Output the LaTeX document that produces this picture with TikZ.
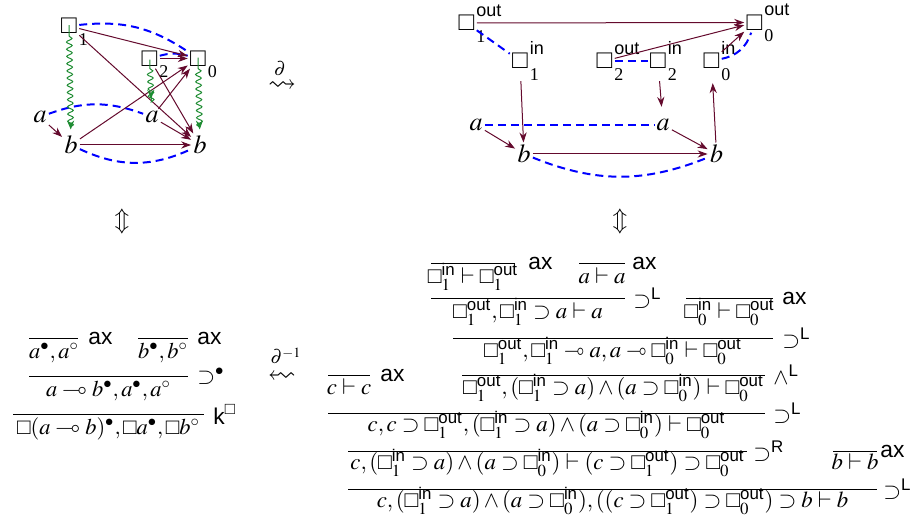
\documentclass[tikz,border=0pt]{standalone}
\usepackage{mathptmx}
\usepackage{amsmath,amssymb}
\usepackage{graphicx}
\usepackage{fontspec}
\setmainfont{Liberation Serif}
\setsansfont{Liberation Sans}
\usetikzlibrary{arrows.meta,decorations.pathmorphing}
\definecolor{edgecol}{RGB}{100,10,45}
\definecolor{snakecol}{RGB}{30,140,50}
\newcommand{\bx}{\text{\sffamily □}}
\newcommand{\bi}[1]{\bx^{\textsf{in}}_{#1}}
\newcommand{\bo}[1]{\bx^{\textsf{out}}_{#1}}
\newcommand{\lolli}{\mathrel{\scalebox{0.8}[1]{$\multimap$}}}
\newcommand{\gb}[2]{\bx\rlap{\smash{\kern1pt\raisebox{0.55em}{\fontsize{9}{9}\selectfont\sffamily #1}}}\rlap{\smash{\kern1pt\raisebox{-0.45em}{\fontsize{9}{9}\selectfont #2}}}}
\begin{document}
\begin{tikzpicture}[x=0.5pt,y=-0.5pt,
  font=\fontsize{11.4}{13}\selectfont,
  gn/.style={inner sep=1pt, font=\fontsize{13}{15}\selectfont},
  e/.style={draw=edgecol, line width=0.5pt, -{Stealth[length=5pt,width=3.6pt]}},
  bd/.style={draw=blue, line width=1pt, dash pattern=on 4pt off 2.5pt},
  sn/.style={draw=snakecol, line width=0.5pt, -{Stealth[length=4.5pt,width=3.6pt]}, decorate, decoration={snake, amplitude=1.4pt, segment length=3.6pt, post length=3pt}},
  seq/.style={anchor=base, inner sep=0pt},
  lseq/.style={anchor=base, inner sep=0pt, font=\fontsize{11.2}{13}\selectfont},
  rl/.style={anchor=west, inner sep=0pt},
  il/.style={line width=0.45pt},
]
\useasboundingbox (0,0) rectangle (917,528);

% ---------- top-left graph ----------
\node[gn] (s1) at (69,26) {\gb{}{1}};
\node[gn] (s2) at (149.5,58.5) {\gb{}{2}};
\node[gn] (s0) at (198,58.5) {\gb{}{0}};
\node[gn] (aL) at (40,117) {$a$};
\node[gn] (aR) at (152,117) {$a$};
\node[gn] (bL) at (71,145) {$b$};
\node[gn] (bR) at (200,145) {$b$};

\draw[bd] (s1) to[bend left=20] (s0);
\draw[bd] (s2) to[bend left=15] (s0);
\draw[bd] (aL) to[bend left=20] (aR);
\draw[bd] (bL) to[bend right=25] (bR);

\draw[e] (s1) -- (s0);
\draw[e] (s1) -- (bR);
\draw[e] (s2) -- (s0);
\draw[e] (s2) -- (bR);
\draw[e] (aL) -- (bL);
\draw[e] (bL) -- (s0);
\draw[e] (bL) -- (bR);
\draw[e] (aR) -- (s0);
\draw[e] (aR) -- (bR);

\draw[sn, shorten <=5.5pt, shorten >=2pt] (s1) -- (bL);
\draw[sn, shorten <=4.5pt, shorten >=5pt] (s2) -- (aR);
\draw[sn, shorten <=5.5pt, shorten >=2pt] (s0) -- (bR);

% ---------- top-right graph ----------
\node[gn] (o1) at (466.5,23) {\gb{out}{1}};
\node[gn] (i1) at (520,61) {\gb{in}{1}};
\node[gn] (o2) at (604.5,61) {\gb{out}{2}};
\node[gn] (i2) at (658,61) {\gb{in}{2}};
\node[gn] (i0) at (711.5,61) {\gb{in}{0}};
\node[gn] (o0) at (754.5,22.5) {\gb{out}{0}};
\node[gn] (a2L) at (476,125) {$a$};
\node[gn] (a2R) at (663,125) {$a$};
\node[gn] (b2L) at (524,154) {$b$};
\node[gn] (b2R) at (716.5,154) {$b$};

\draw[bd] (o1) -- (i1);
\draw[bd] (o2) -- (i2);
\draw[bd] (i0) to[bend right=30] (o0);
\draw[bd] (a2L) -- (a2R);
\draw[bd] (b2L) to[bend right=22] (b2R);

\draw[e] (o1) -- (o0);
\draw[e] (o2) -- (o0);
\draw[e] (i0) -- (o0);
\draw[e, shorten <=5pt] (i1) -- (b2L);
\draw[e, shorten <=5pt, shorten >=5pt] (i2) -- (a2R);
\draw[e, shorten >=6pt] (b2R) -- (i0);
\draw[e] (a2L) -- (b2L);
\draw[e] (a2R) -- (b2R);
\draw[e] (b2L) -- (b2R);

% ---------- transformation arrows ----------
\node[font=\fontsize{9.5}{11}\selectfont] (d1) at (280,69) {$\partial$};
\node[font=\fontsize{14}{16}\selectfont] (d1a) at (282,86) {$\rightsquigarrow$};
\node[font=\fontsize{9.5}{11}\selectfont] (d2) at (286,356) {$\partial^{-1}$};
\node[font=\fontsize{14}{16}\selectfont] (d2a) at (282,377) {\reflectbox{$\rightsquigarrow$}};
\node[font=\fontsize{12}{14}\selectfont] (u1) at (122,222) {$\Updownarrow$};
\node[font=\fontsize{12}{14}\selectfont] (u2) at (620,222) {$\Updownarrow$};

% ---------- bottom-left proof ----------
\node[lseq] (q1) at (54,359) {$a^\bullet, a^\circ$};
\draw[il] (29,338) -- (78,338);
\node[rl] (q1r) at (88,338) {\textsf{ax}};
\node[lseq] (q2) at (163,359) {$b^\bullet, b^\circ$};
\draw[il] (138,338) -- (188,338);
\node[rl] (q2r) at (197,338) {\textsf{ax}};
\node[lseq] (q3) at (108.5,397) {$a \multimap b^\bullet, a^\bullet, a^\circ$};
\draw[il] (29,376) -- (188,376);
\node[rl] (q3r) at (197,376) {$\supset^{\bullet}$};
\node[lseq] (q4) at (108.5,435) {$\bx(a \multimap b)^\bullet, \bx a^\bullet, \bx b^\circ$};
\draw[il] (13,414) -- (204,414);
\node[rl] (q4r) at (213,414) {$\textsf{k}^{\bx}$};

% ---------- bottom-right proof ----------
\node[seq] (p1) at (473,284) {$\bi1 \vdash \bo1$};
\draw[il] (431,263) -- (515,263);
\node[rl] (p1r) at (528,263) {\textsf{ax}};
\node[seq] (p2) at (602,284) {$a \vdash a$};
\draw[il] (579,263) -- (625,263);
\node[rl] (p2r) at (632,263) {\textsf{ax}};
\node[seq] (p3) at (528,319) {$\bo1, \bi1 \supset a \vdash a$};
\draw[il] (431,298) -- (625,298);
\node[rl] (p3r) at (633,298) {$\supset^{\textsf{L}}$};
\node[seq] (p4) at (729.5,319) {$\bi0 \vdash \bo0$};
\draw[il] (686,298) -- (773,298);
\node[rl] (p4r) at (782,298) {\textsf{ax}};
\node[seq] (p5) at (613,358) {$\bo1, \bi1 \lolli a, a \lolli \bi0 \vdash \bo0$};
\draw[il] (453,338) -- (773,338);
\node[rl] (p5r) at (782,338) {$\supset^{\textsf{L}}$};
\node[seq] (p6) at (613.5,395) {$\bo1, (\bi1 \supset a) \wedge (a \supset \bi0) \vdash \bo0$};
\draw[il] (462,375) -- (765,375);
\node[rl] (p6r) at (773,375) {$\wedge^{\textsf{L}}$};
\node[seq] (pc) at (349,395) {$c \vdash c$};
\draw[il] (328,375) -- (370,375);
\node[rl] (pcr) at (380,375) {\textsf{ax}};
\node[seq] (p7) at (546.5,432) {$c, c \supset \bo1, (\bi1 \supset a) \wedge (a \supset \bi0) \vdash \bo0$};
\draw[il] (328,413) -- (765,413);
\node[rl] (p7r) at (773,413) {$\supset^{\textsf{L}}$};
\node[seq] (p8) at (547.5,470) {$c, (\bi1 \supset a) \wedge (a \supset \bi0) \vdash (c \supset \bo1) \supset \bo0$};
\draw[il] (348,451) -- (747,451);
\node[rl] (p8r) at (753,451) {$\supset^{\textsf{R}}$};
\node[seq] (pb) at (855,470) {$b \vdash b$};
\draw[il] (833,451) -- (877,451);
\node[rl] (pbr) at (880,451) {\textsf{ax}};
\node[seq] (p9) at (612.5,508) {$c, (\bi1 \supset a) \wedge (a \supset \bi0), ((c \supset \bo1) \supset \bo0) \supset b \vdash b$};
\draw[il] (348,489) -- (877,489);
\node[rl] (p9r) at (883,489) {$\supset^{\textsf{L}}$};
\end{tikzpicture}
\end{document}
